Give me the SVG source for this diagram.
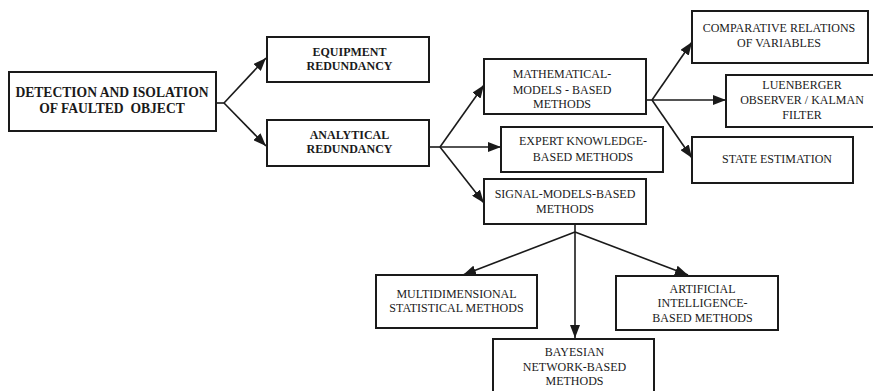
<svg xmlns="http://www.w3.org/2000/svg" width="873" height="391" viewBox="0 0 873 391">
  <style>
    .box { fill: #ffffff; stroke: #1a1a1a; stroke-width: 2; }
    .lbl { font-family: "Liberation Serif", "Times New Roman", Times, serif; font-size: 12px; fill: #1a1a1a; text-anchor: middle; }
    .bold { font-weight: bold; }
    .big { font-size: 13.6px; }
    .wire { fill: none; stroke: #1a1a1a; stroke-width: 1.6; }
  </style>
  <defs>
    <marker id="arrow" markerUnits="userSpaceOnUse" markerWidth="14" markerHeight="10" refX="13" refY="5" orient="auto">
      <path d="M0,0 L13,5 L0,10 Z" fill="#1a1a1a"/>
    </marker>
  </defs>
  <rect width="873" height="391" fill="#ffffff"/>

  <g id="connectors">
    <!-- root fan-out -->
    <path class="wire" d="M216,103 L224,103"/>
    <path class="wire" d="M224,103 L266,58" marker-end="url(#arrow)"/>
    <path class="wire" d="M224,103 L266,146" marker-end="url(#arrow)"/>
    <!-- analytical redundancy fan-out -->
    <path class="wire" d="M429,147 L440,147"/>
    <path class="wire" d="M440,147 L484,85" marker-end="url(#arrow)"/>
    <path class="wire" d="M440,147 L501,147" marker-end="url(#arrow)"/>
    <path class="wire" d="M440,147 L484,203" marker-end="url(#arrow)"/>
    <!-- mathematical models fan-out -->
    <path class="wire" d="M646,100 L652,100"/>
    <path class="wire" d="M652,100 L692,42" marker-end="url(#arrow)"/>
    <path class="wire" d="M652,100 L726,100" marker-end="url(#arrow)"/>
    <path class="wire" d="M652,100 L692,158" marker-end="url(#arrow)"/>
    <!-- signal models fan-out -->
    <path class="wire" d="M575,224 L575,232"/>
    <path class="wire" d="M575,232 L463,275" marker-end="url(#arrow)"/>
    <path class="wire" d="M575,232 L575,338" marker-end="url(#arrow)"/>
    <path class="wire" d="M575,232 L688,275" marker-end="url(#arrow)"/>
  </g>

  <g id="detection">
    <rect class="box" x="9" y="72" width="207" height="59"/>
    <text class="lbl bold big" x="112" y="97">DETECTION AND ISOLATION</text>
    <text class="lbl bold big" x="112" y="113" xml:space="preserve">OF FAULTED  OBJECT</text>
  </g>

  <g id="equipment">
    <rect class="box" x="267" y="37" width="162" height="45"/>
    <text class="lbl bold" x="349.5" y="56">EQUIPMENT</text>
    <text class="lbl bold" x="349.5" y="70">REDUNDANCY</text>
  </g>

  <g id="analytical">
    <rect class="box" x="267" y="120" width="162" height="46"/>
    <text class="lbl bold" x="349.5" y="139">ANALYTICAL</text>
    <text class="lbl bold" x="349.5" y="153">REDUNDANCY</text>
  </g>

  <g id="mathematical">
    <rect class="box" x="484" y="59" width="162" height="55"/>
    <text class="lbl" x="562" y="78">MATHEMATICAL-</text>
    <text class="lbl" x="562" y="94" xml:space="preserve">MODELS - BASED</text>
    <text class="lbl" x="562" y="108">METHODS</text>
  </g>

  <g id="expert">
    <rect class="box" x="501" y="127" width="162" height="45"/>
    <text class="lbl" x="583" y="145">EXPERT KNOWLEDGE-</text>
    <text class="lbl" x="583" y="161">BASED METHODS</text>
  </g>

  <g id="signal">
    <rect class="box" x="484" y="179" width="162" height="45"/>
    <text class="lbl" x="565" y="198">SIGNAL-MODELS-BASED</text>
    <text class="lbl" x="565" y="213">METHODS</text>
  </g>

  <g id="comparative">
    <rect class="box" x="692" y="11" width="176" height="52"/>
    <text class="lbl" x="779" y="32">COMPARATIVE RELATIONS</text>
    <text class="lbl" x="779" y="47">OF VARIABLES</text>
  </g>

  <g id="luenberger">
    <rect class="box" x="726" y="75" width="150" height="52"/>
    <text class="lbl" x="802" y="89">LUENBERGER</text>
    <text class="lbl" x="802" y="104">OBSERVER / KALMAN</text>
    <text class="lbl" x="802" y="119">FILTER</text>
  </g>

  <g id="state">
    <rect class="box" x="692" y="137" width="161" height="46"/>
    <text class="lbl" x="777" y="163">STATE ESTIMATION</text>
  </g>

  <g id="multidimensional">
    <rect class="box" x="376" y="275" width="161" height="53"/>
    <text class="lbl" x="456.5" y="298">MULTIDIMENSIONAL</text>
    <text class="lbl" x="456.5" y="312">STATISTICAL METHODS</text>
  </g>

  <g id="bayesian">
    <rect class="box" x="493" y="339" width="161" height="56"/>
    <text class="lbl" x="574.5" y="356">BAYESIAN</text>
    <text class="lbl" x="574.5" y="371">NETWORK-BASED</text>
    <text class="lbl" x="574.5" y="385">METHODS</text>
  </g>

  <g id="artificial">
    <rect class="box" x="616" y="276" width="162" height="54"/>
    <text class="lbl" x="702.5" y="293">ARTIFICIAL</text>
    <text class="lbl" x="702.5" y="307">INTELLIGENCE-</text>
    <text class="lbl" x="702.5" y="322">BASED METHODS</text>
  </g>
</svg>
